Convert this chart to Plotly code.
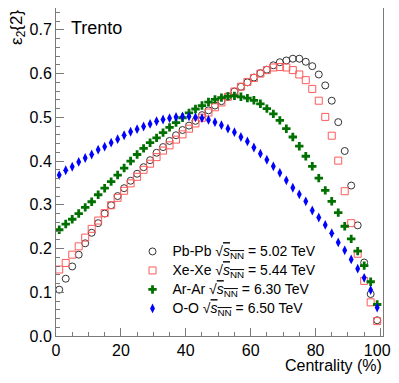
"""
Eccentricity eps_2{2} vs centrality from Trento for four collision systems.
"""

import plotly.graph_objects as go

# centrality bin centres (%)
centrality = [
    1, 3, 5, 7, 9, 11, 13, 15, 17, 19, 21, 23, 25, 27, 29, 31, 33, 35, 37, 39,
    41, 43, 45, 47, 49, 51, 53, 55, 57, 59, 61, 63, 65, 67, 69, 71, 73, 75, 77, 79,
    81, 83, 85, 87, 89, 91, 93, 95, 97, 99,
]

pbpb = [
    0.106, 0.131, 0.159, 0.186, 0.212, 0.236, 0.258, 0.280, 0.299, 0.320,
    0.338, 0.355, 0.371, 0.386, 0.402, 0.419, 0.432, 0.446, 0.459, 0.471,
    0.481, 0.492, 0.505, 0.516, 0.527, 0.537, 0.548, 0.559, 0.570, 0.580,
    0.591, 0.601, 0.609, 0.619, 0.626, 0.630, 0.634, 0.634, 0.627, 0.617,
    0.598, 0.573, 0.538, 0.489, 0.423, 0.344, 0.253, 0.168, 0.096, 0.036,
]

xexe = [
    0.152, 0.167, 0.186, 0.205, 0.225, 0.245, 0.264, 0.281, 0.299, 0.316,
    0.332, 0.349, 0.364, 0.380, 0.394, 0.409, 0.424, 0.436, 0.449, 0.461,
    0.474, 0.486, 0.499, 0.511, 0.523, 0.534, 0.547, 0.559, 0.570, 0.581,
    0.590, 0.600, 0.608, 0.614, 0.615, 0.614, 0.608, 0.598, 0.585, 0.565,
    0.538, 0.501, 0.458, 0.401, 0.331, 0.258, 0.188, 0.126, 0.077, 0.034,
]

arar = [
    0.243, 0.256, 0.267, 0.280, 0.294, 0.307, 0.323, 0.338, 0.353, 0.368,
    0.384, 0.400, 0.415, 0.429, 0.442, 0.453, 0.465, 0.477, 0.488, 0.499,
    0.510, 0.519, 0.527, 0.535, 0.541, 0.545, 0.548, 0.549, 0.547, 0.544,
    0.539, 0.531, 0.520, 0.508, 0.493, 0.474, 0.455, 0.434, 0.411, 0.388,
    0.361, 0.333, 0.308, 0.282, 0.251, 0.222, 0.194, 0.161, 0.124, 0.072,
]

oo = [
    0.368, 0.379, 0.387, 0.398, 0.407, 0.415, 0.426, 0.433, 0.442, 0.450,
    0.459, 0.467, 0.473, 0.479, 0.485, 0.491, 0.495, 0.498, 0.501, 0.502,
    0.502, 0.500, 0.498, 0.494, 0.489, 0.482, 0.474, 0.466, 0.455, 0.445,
    0.431, 0.417, 0.403, 0.388, 0.373, 0.356, 0.339, 0.324, 0.308, 0.287,
    0.271, 0.254, 0.235, 0.214, 0.196, 0.175, 0.154, 0.133, 0.105, 0.065,
]

x_ticks = [0, 20, 40, 60, 80, 100]
# the last label carries trailing thin spaces so it does not run off the page
x_ticktext = ["0", "20", "40", "60", "80", "100\u2009\u2009"]

systems = ["Pb-Pb", "Xe-Xe", "Ar-Ar", "O-O"]
energies = ["5.02", "5.44", "6.30", "6.50"]

FONT = "Liberation Sans, Arial, Helvetica, sans-serif"
FRAME = "#7a7a7a"


def legend_label(system, energy):
    # legend font is kept small so rows sit tight; the span sets the real size
    return (
        f"<span style='font-size:14px'>{system} √"
        f"<span style='text-decoration:overline'><i>s</i><sub>NN</sub></span>"
        f" = {energy} TeV</span>"
    )


def add_series(fig, y, name, symbol, color, size, line_width):
    """
    Add one collision system as markers only.
    """
    fig.add_trace(
        go.Scatter(
            x=centrality,
            y=y,
            mode="markers",
            name=name,
            marker=dict(symbol=symbol, size=size, color=color,
                        line=dict(color=color, width=line_width)),
        )
    )


fig = go.Figure()
add_series(fig, pbpb, legend_label(systems[0], energies[0]), "circle-open", "#333333", 7, 1)
add_series(fig, xexe, legend_label(systems[1], energies[1]), "square-open", "#ff5a5a", 7, 1)
add_series(fig, arar, legend_label(systems[2], energies[2]), "cross", "#007000", 7, 0)
add_series(fig, oo, legend_label(systems[3], energies[3]), "diamond-tall", "#0000ff", 7, 0)

axis_common = dict(
    showline=True,
    linecolor=FRAME,
    linewidth=1,
    mirror=True,
    showgrid=False,
    zeroline=False,
    ticks="inside",
    ticklen=8,
    tickcolor=FRAME,
    ticklabeloverflow="allow",
    tickfont=dict(family=FONT, size=16, color="black"),
)

# page body has an 8px margin; keep the page from overflowing vertically
fig.update_layout(
    width=391,
    height=367,
    margin=dict(l=48, r=16, t=0, b=39),
    paper_bgcolor="white",
    plot_bgcolor="white",
    font=dict(family=FONT, color="black"),
    xaxis=dict(
        range=[0, 100.8],
        tickmode="array",
        tickvals=x_ticks,
        ticktext=x_ticktext,
        minor=dict(dtick=5, ticklen=4, ticks="inside", tickcolor=FRAME),
        **axis_common,
    ),
    yaxis=dict(
        range=[0, 0.75],
        dtick=0.1,
        tickformat=".1f",
        minor=dict(dtick=0.02, ticklen=4, ticks="inside", tickcolor=FRAME),
        **axis_common,
    ),
    legend=dict(
        x=0.234,
        y=0.302,
        xanchor="left",
        yanchor="top",
        bgcolor="rgba(0,0,0,0)",
        font=dict(family=FONT, size=12, color="black"),
        tracegroupgap=0,
        itemsizing="trace",
    ),
    showlegend=True,
)

fig.add_annotation(
    text="Trento", xref="paper", yref="paper", x=0.04, y=0.975,
    xanchor="left", yanchor="top", showarrow=False,
    font=dict(family=FONT, size=18, color="black"),
)
fig.add_annotation(
    text="Centrality (%)", xref="paper", yref="paper", x=1.0, y=-0.062,
    xanchor="right", yanchor="top", showarrow=False, borderpad=0,
    font=dict(family=FONT, size=16, color="black"),
)
fig.add_annotation(
    text="ε<sub>2</sub>{2}", xref="paper", yref="paper", x=-0.118, y=1.0,
    xanchor="center", yanchor="top", showarrow=False, textangle=-90,
    font=dict(family=FONT, size=17, color="black"),
)

fig.write_html("out.html")
